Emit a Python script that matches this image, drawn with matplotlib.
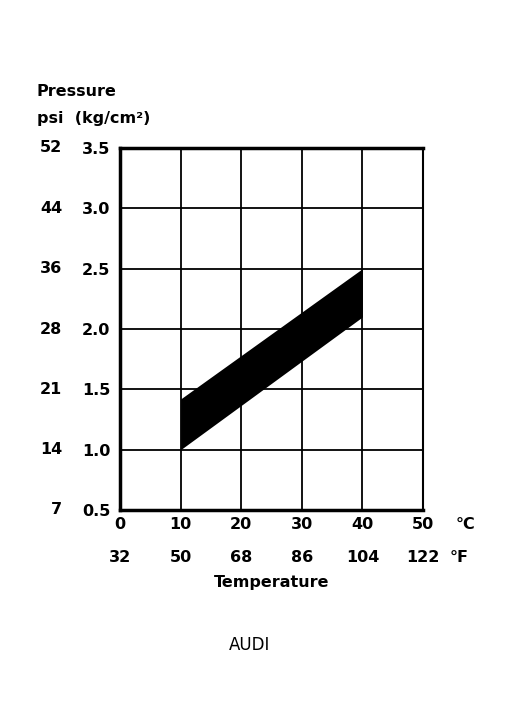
import matplotlib.pyplot as plt

# temperature axis (deg C) with deg F equivalents
temp_c = [0, 10, 20, 30, 40, 50]
temp_f = ["32", "50", "68", "86", "104", "122"]

# pressure axis (kg/cm2) with psi equivalents
press_kg = [0.5, 1.0, 1.5, 2.0, 2.5, 3.0, 3.5]
press_psi = ["7", "14", "21", "28", "36", "44", "52"]

# pressure band between 10 and 40 deg C
band_x = [10, 40]
band_low = [1.0, 2.1]
band_high = [1.42, 2.5]

fig = plt.figure(figsize=(5.14, 7.27), dpi=100)
ax = fig.add_axes([120 / 514, 1 - 510 / 727, 303 / 514, 362 / 727])

ax.fill_between(band_x, band_low, band_high, color="black", linewidth=0)

ax.set_xlim(0, 50)
ax.set_ylim(0.5, 3.5)
ax.set_xticks(temp_c)
ax.set_yticks(press_kg)
ax.grid(True, color="black", linewidth=1.3)
ax.tick_params(length=0, labelsize=11.5, pad=5)
ax.set_xticklabels([str(t) for t in temp_c], fontweight="bold")
ax.set_yticklabels(["%.1f" % p for p in press_kg], fontweight="bold")
ax.tick_params(axis="y", pad=7)

for side in ["left", "bottom", "top"]:
    ax.spines[side].set_linewidth(2.5)
ax.spines["right"].set_linewidth(1.5)

# psi column on the left
for p, s in zip(press_kg, press_psi):
    ax.text(-0.19, p, s, transform=ax.get_yaxis_transform(), ha="right",
            va="center", fontsize=11.5, fontweight="bold")

# deg F row under the deg C labels
for t, f in zip(temp_c, temp_f):
    ax.text(t, -0.13, f, transform=ax.get_xaxis_transform(), ha="center",
            va="center", fontsize=11.5, fontweight="bold")

ax.text(1.14, -0.04, "°C", transform=ax.transAxes, ha="center", va="center",
        fontsize=11.5, fontweight="bold")
ax.text(1.12, -0.13, "°F", transform=ax.transAxes, ha="center", va="center",
        fontsize=11.5, fontweight="bold")

fig.text(272 / 514, 1 - 583 / 727, "Temperature", ha="center", va="center",
         fontsize=11.5, fontweight="bold")
fig.text(37 / 514, 1 - 92 / 727, "Pressure", ha="left", va="center",
         fontsize=11.5, fontweight="bold")
fig.text(37 / 514, 1 - 118 / 727, "psi  (kg/cm²)", ha="left", va="center",
         fontsize=11.5, fontweight="bold")
fig.text(250 / 514, 1 - 645 / 727, "AUDI", ha="center", va="center",
         fontsize=12)

fig.savefig("out.png", dpi=100)
